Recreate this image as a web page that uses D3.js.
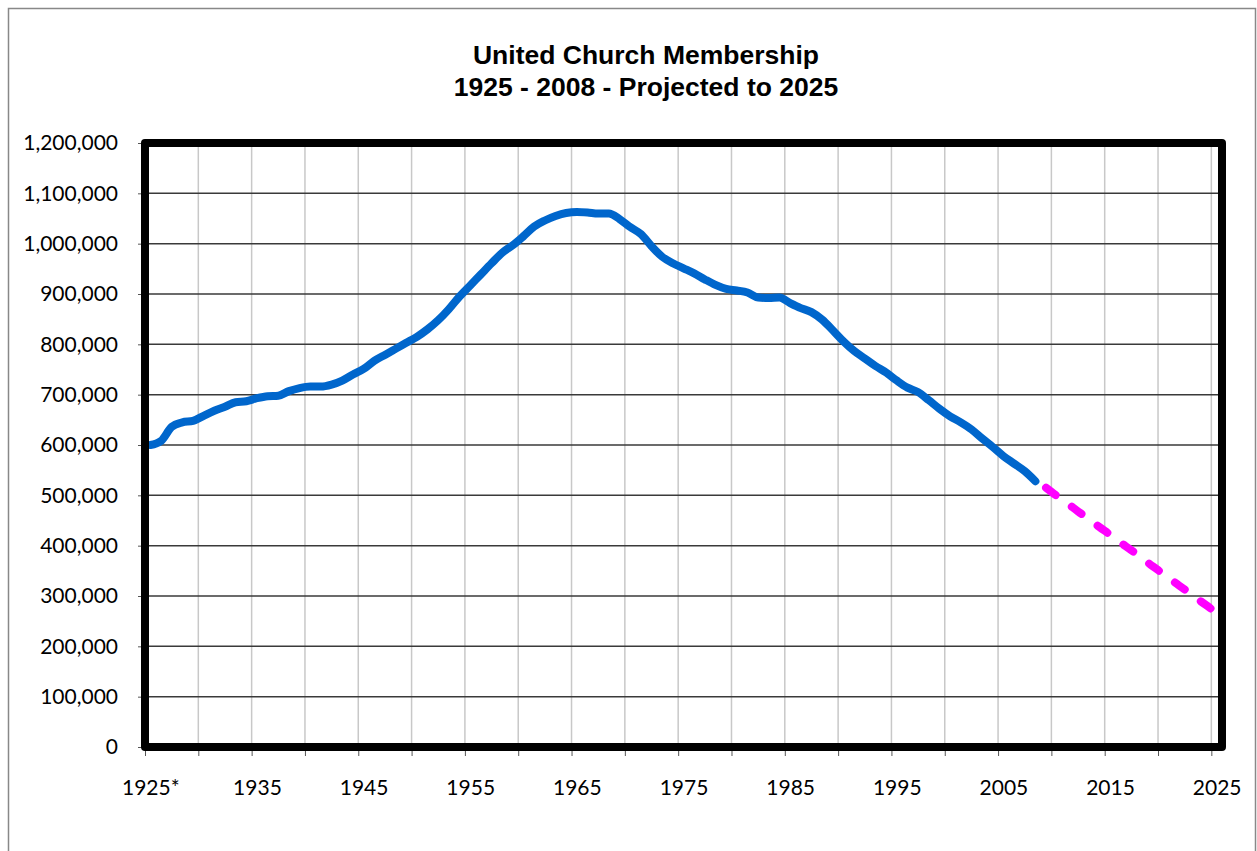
<!DOCTYPE html>
<html>
<head>
<meta charset="utf-8">
<script src="https://cdn.jsdelivr.net/npm/d3@7"></script>
<style>
    body { margin: 0; background: #fff; }
    .tick text { font-family: Lato, "Open Sans", sans-serif; font-size: 21px; fill: #000; }
</style>
</head>
<body>
<div id="chart"></div>
<script>
// membership per year, 1925 - 2008
var years = d3.range(1925, 2009);
var members = [
    600000, 608000, 636000, 645000, 648000, 658000, 668000, 676000, 685000, 687000,
    693000, 697000, 698000, 707000, 713000, 716000, 716000, 720000, 728000, 740000,
    751000, 767000, 779000, 791000, 803000, 815000, 830000, 848000, 870000, 895000,
    917000, 939000, 961000, 982000, 997000, 1015000, 1034000, 1046000, 1055000, 1061000,
    1063000, 1062000, 1060000, 1060000, 1049000, 1033000, 1019000, 995000, 974000, 961000,
    951000, 941000, 929000, 918000, 910000, 907000, 903000, 893000, 892000, 893000,
    882000, 872000, 864000, 849000, 828000, 806000, 787000, 772000, 757000, 744000,
    728000, 714000, 705000, 689000, 672000, 657000, 645000, 631000, 613000, 596000,
    578000, 563000, 548000, 528000
];
// projection 2009 - 2025
var projYears = d3.range(2009, 2026);
var projected = [
    515000, 499000, 484000, 468000, 453000, 437000, 422000, 406000, 391000,
    375000, 359000, 344000, 328000, 313000, 297000, 282000, 266000
];
// axis ticks / labels
var yTicks = d3.range(0, 1200001, 100000);
var xLabelYears = d3.range(1925, 2026, 10);
var xLabels = ["1925*", "1935", "1945", "1955", "1965", "1975", "1985", "1995", "2005", "2015", "2025"];
var gridYears = d3.range(1925, 2026, 5);

var W = 1257, H = 851;
var plot = {left: 145, right: 1222, top: 143, bottom: 747};

var svg = d3.select("#chart").append("svg")
    .attr("width", W)
    .attr("height", H);

// outer chart border
svg.append("rect")
    .attr("x", 8.5).attr("y", 8.5)
    .attr("width", 1247).attr("height", 860)
    .attr("fill", "none")
    .attr("stroke", "#888")
    .attr("stroke-width", 1.5);

// title
var title = svg.append("text")
    .attr("text-anchor", "middle")
    .style("font-family", "'Liberation Sans', Arial, sans-serif")
    .style("font-weight", "bold")
    .style("font-size", "26.5px");
title.append("tspan").attr("x", 646).attr("y", 64).text("United Church Membership");
title.append("tspan").attr("x", 646).attr("y", 96).text("1925 - 2008 - Projected to 2025");

// categories sit between ticks, so the domain is padded by half a year
var x = d3.scaleLinear()
    .domain([1924.5, 2025.5])
    .range([plot.left, plot.right]);
var y = d3.scaleLinear()
    .domain([0, 1200000])
    .range([plot.bottom, plot.top]);

// vertical gridlines
svg.append("g")
    .selectAll("line")
    .data(gridYears)
    .enter().append("line")
    .attr("x1", function (d) { return x(d - 0.5); })
    .attr("x2", function (d) { return x(d - 0.5); })
    .attr("y1", plot.top)
    .attr("y2", plot.bottom)
    .attr("stroke", "#c8c8c8")
    .attr("stroke-width", 1.5);

// horizontal gridlines
svg.append("g")
    .selectAll("line")
    .data(yTicks)
    .enter().append("line")
    .attr("x1", plot.left)
    .attr("x2", plot.right)
    .attr("y1", function (d) { return y(d); })
    .attr("y2", function (d) { return y(d); })
    .attr("stroke", "#3a3a3a")
    .attr("stroke-width", 1.5);

// y axis
var yAxis = svg.append("g")
    .attr("transform", "translate(" + plot.left + ",0)")
    .call(d3.axisLeft(y).tickValues(yTicks).tickFormat(d3.format(",")).tickSize(7).tickPadding(20));
yAxis.select(".domain").remove();
yAxis.selectAll(".tick line").attr("stroke", "#555");

// x axis tick marks (between categories)
var xTickAxis = svg.append("g")
    .attr("transform", "translate(0," + plot.bottom + ")")
    .call(d3.axisBottom(x).tickValues(gridYears.map(function (d) { return d - 0.5; })).tickFormat("").tickSize(9));
xTickAxis.select(".domain").remove();
xTickAxis.selectAll(".tick line").attr("stroke", "#555");

// x axis labels (at category centres)
var xLabelAxis = svg.append("g")
    .attr("transform", "translate(0," + plot.bottom + ")")
    .call(d3.axisBottom(x).tickValues(xLabelYears).tickSize(0).tickPadding(33)
        .tickFormat(function (d, i) { return xLabels[i]; }));
xLabelAxis.select(".domain").remove();

// lines
var line = d3.line()
    .x(function (d) { return x(d[0]); })
    .y(function (d) { return y(d[1]); })
    .curve(d3.curveMonotoneX);

svg.append("path")
    .datum(years.map(function (d, i) { return [d, members[i]]; }))
    .attr("d", line)
    .attr("fill", "none")
    .attr("stroke", "#0066cc")
    .attr("stroke-width", 8)
    .attr("stroke-linecap", "round")
    .attr("stroke-linejoin", "round");

svg.append("path")
    .datum(projYears.map(function (d, i) { return [d, projected[i]]; }))
    .attr("d", line)
    .attr("fill", "none")
    .attr("stroke", "#ff00ff")
    .attr("stroke-width", 8)
    .attr("stroke-linecap", "round")
    .attr("stroke-dasharray", "12 20");

// plot border on top
svg.append("rect")
    .attr("x", plot.left)
    .attr("y", plot.top)
    .attr("width", plot.right - plot.left)
    .attr("height", plot.bottom - plot.top)
    .attr("fill", "none")
    .attr("stroke", "#000")
    .attr("stroke-width", 8)
    .attr("stroke-linejoin", "round");
</script>
</body>
</html>
